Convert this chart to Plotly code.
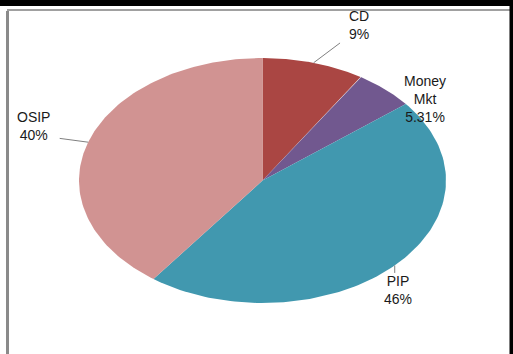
import numpy as np
import plotly.graph_objects as go

# ---- data ----
categories = ["CD", "Money Mkt", "PIP", "OSIP"]
values = [9, 5.31, 46, 40]
label_texts = ["CD<br>9%", "Money<br>Mkt<br>5.31%", "PIP<br>46%", "OSIP<br>40%"]
colors = ["#AA4643", "#71588F", "#4198AF", "#D19392"]

# ---- layout geometry (pixels) ----
W, H = 513, 354
CX, CY, RX, RY = 262.5, 180.5, 183.5, 122.5


def px_to_data(px, py):
    return (px - CX) / RX, (CY - py) / RY


x0, y1 = px_to_data(0, 0)
x1, y0 = px_to_data(W, H)

fig = go.Figure()

total = float(sum(values))
fracs = np.cumsum([0] + list(values)) / total
for i, cat in enumerate(categories):
    th = np.linspace(fracs[i], fracs[i + 1], 120) * 2 * np.pi
    xs = np.concatenate([[0], np.sin(th), [0]])
    ys = np.concatenate([[0], np.cos(th), [0]])
    fig.add_trace(go.Scatter(x=xs, y=ys, mode="lines", fill="toself",
                             fillcolor=colors[i], line=dict(width=0),
                             name=cat, hoverinfo="name", showlegend=False))

# label positions (pixel centre of text block) and leader-line offsets
label_pos = [(359, 25), (425, 99), (398, 290), (33, 126)]
leader = [(28, -21), None, (0, 9), (-30, -4)]

font = dict(family="Liberation Sans, Arial, sans-serif", size=14, color="#1a1a1a")
for i, cat in enumerate(categories):
    mid = (fracs[i] + fracs[i + 1]) / 2 * 2 * np.pi
    ex, ey = np.sin(mid), np.cos(mid)
    if leader[i] is not None:
        fig.add_annotation(x=ex, y=ey, xref="x", yref="y", text="",
                           showarrow=True, arrowhead=0, arrowwidth=1,
                           arrowcolor="#808080", ax=leader[i][0], ay=leader[i][1],
                           standoff=0, startstandoff=0)
    lx, ly = px_to_data(*label_pos[i])
    fig.add_annotation(x=lx, y=ly, xref="x", yref="y", text=label_texts[i],
                       showarrow=False, font=font, align="center",
                       xanchor="center", yanchor="middle")

# frame decorations
fig.add_shape(type="rect", xref="paper", yref="paper", x0=8 / W, x1=511 / W,
              y0=-0.1, y1=1 - 10 / H, fillcolor="rgba(0,0,0,0)",
              line=dict(color="#a0a0a0", width=2), layer="below")
fig.add_shape(type="line", xref="paper", yref="paper", x0=7.5 / W, x1=7.5 / W,
              y0=-0.1, y1=1 - 11 / H, line=dict(color="#8a8a8a", width=3),
              layer="below")
fig.add_shape(type="rect", xref="paper", yref="paper", x0=0, x1=1,
              y0=1 - 6 / H, y1=1.01, fillcolor="black", line=dict(width=0), layer="above")
fig.add_shape(type="rect", xref="paper", yref="paper", x0=509.5 / W, x1=1.01,
              y0=-0.01, y1=1.01, fillcolor="black", line=dict(width=0), layer="above")

fig.update_layout(
    width=W, height=H, autosize=False,
    margin=dict(l=0, r=0, t=0, b=0),
    paper_bgcolor="white", plot_bgcolor="white",
    xaxis=dict(range=[x0, x1], visible=False, fixedrange=True),
    yaxis=dict(range=[y0, y1], visible=False, fixedrange=True),
    showlegend=False,
)

fig.write_html("out.html")
